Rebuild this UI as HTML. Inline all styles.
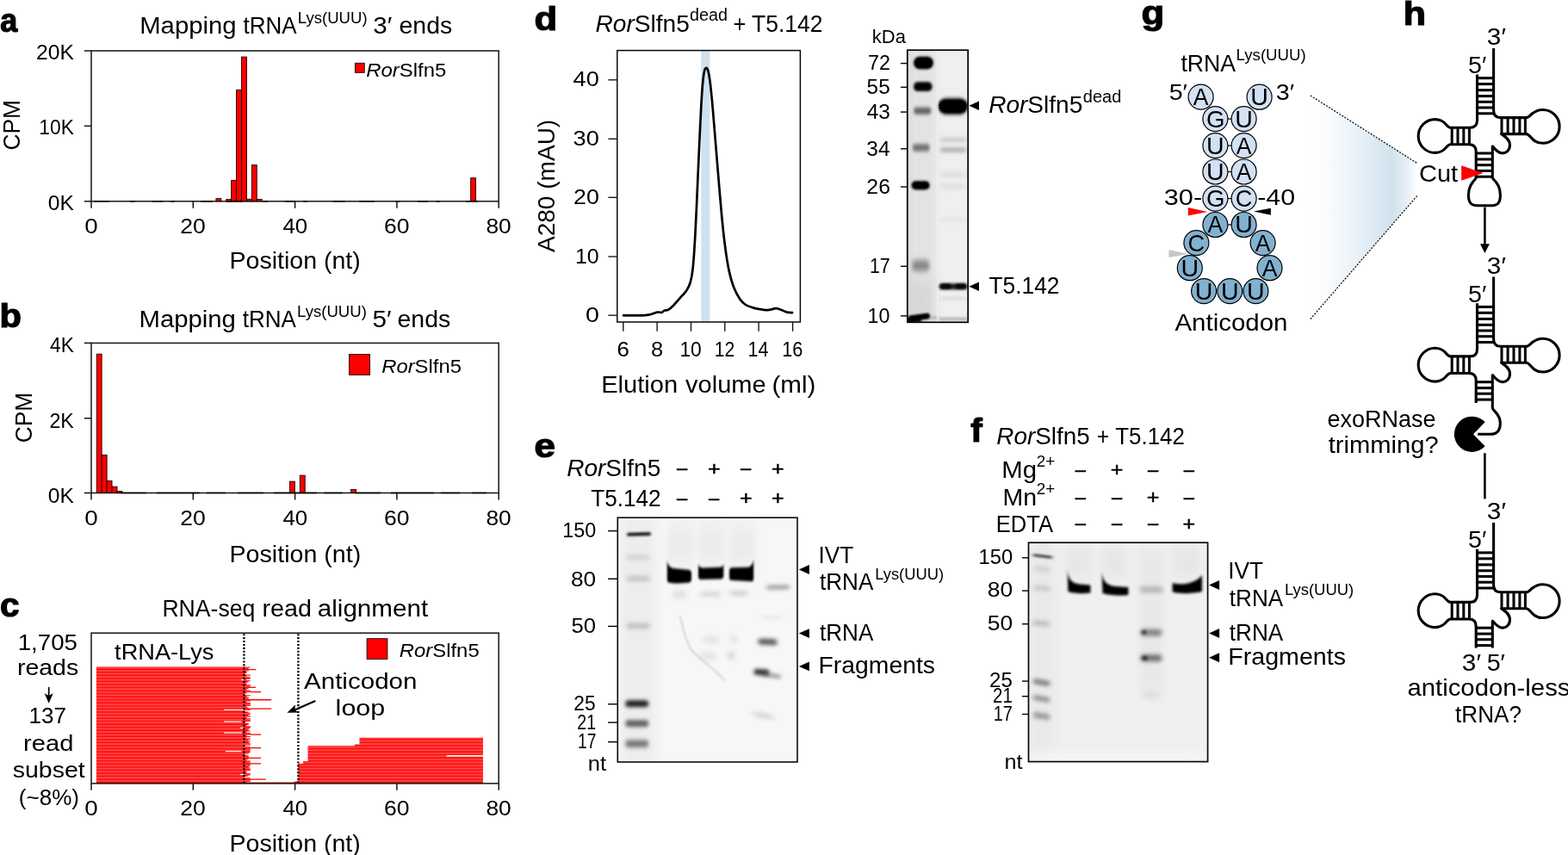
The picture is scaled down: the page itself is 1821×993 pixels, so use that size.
<!DOCTYPE html>
<html lang="en">
<head>
<meta charset="utf-8">
<title>Figure</title>
<style>
html,body{margin:0;padding:0;background:#fff;}
body{width:1821px;height:993px;overflow:hidden;}
svg{display:block;}
svg text{font-family:"Liberation Sans",Arial,Helvetica,sans-serif;white-space:pre;}
</style>
</head>
<body>
<svg width="1821" height="993" viewBox="0 0 1821 993">
<defs>
<pattern id="stripe" width="10" height="3.55" patternUnits="userSpaceOnUse" patternTransform="translate(0 774.4)"><rect width="10" height="2.25" y="0" fill="#fff" fill-opacity="0.27"/></pattern>
<clipPath id="clipc"><rect x="111.9" y="774.4" width="179" height="134.0"/><path d="M561 856.8 H417.5 V864.6 H411.8 V866.3 H357.6 V884 H352 V887 H346.4 V906.5 L340.5 908.6 H283 V909.9 H561 Z"/></clipPath>
<clipPath id="gclip1"><rect x="1053.8" y="58.2" width="70.4" height="316.1"/></clipPath>
<filter id="bl_4_6" x="-50%" y="-150%" width="200%" height="400%" color-interpolation-filters="sRGB"><feGaussianBlur stdDeviation="4 6"/></filter>
<filter id="bl_2_6" x="-50%" y="-150%" width="200%" height="400%" color-interpolation-filters="sRGB"><feGaussianBlur stdDeviation="2 6"/></filter>
<filter id="bl_5_10" x="-50%" y="-150%" width="200%" height="400%" color-interpolation-filters="sRGB"><feGaussianBlur stdDeviation="5 10"/></filter>
<filter id="bl_3_6" x="-50%" y="-150%" width="200%" height="400%" color-interpolation-filters="sRGB"><feGaussianBlur stdDeviation="3 6"/></filter>
<filter id="bl_1_4_1_7" x="-50%" y="-150%" width="200%" height="400%" color-interpolation-filters="sRGB"><feGaussianBlur stdDeviation="1.4 1.7"/></filter>
<filter id="bl_0_8_0_8" x="-50%" y="-150%" width="200%" height="400%" color-interpolation-filters="sRGB"><feGaussianBlur stdDeviation="0.8 0.8"/></filter>
<filter id="bl_1_5_1_8" x="-50%" y="-150%" width="200%" height="400%" color-interpolation-filters="sRGB"><feGaussianBlur stdDeviation="1.5 1.8"/></filter>
<filter id="bl_1_2_1_2" x="-50%" y="-150%" width="200%" height="400%" color-interpolation-filters="sRGB"><feGaussianBlur stdDeviation="1.2 1.2"/></filter>
<filter id="bl_1_7_2_0" x="-50%" y="-150%" width="200%" height="400%" color-interpolation-filters="sRGB"><feGaussianBlur stdDeviation="1.7 2.0"/></filter>
<filter id="bl_1_8_2_1" x="-50%" y="-150%" width="200%" height="400%" color-interpolation-filters="sRGB"><feGaussianBlur stdDeviation="1.8 2.1"/></filter>
<filter id="bl_1_4_1_6" x="-50%" y="-150%" width="200%" height="400%" color-interpolation-filters="sRGB"><feGaussianBlur stdDeviation="1.4 1.6"/></filter>
<filter id="bl_2_2_3_0" x="-50%" y="-150%" width="200%" height="400%" color-interpolation-filters="sRGB"><feGaussianBlur stdDeviation="2.2 3.0"/></filter>
<filter id="bl_1_3_1_2" x="-50%" y="-150%" width="200%" height="400%" color-interpolation-filters="sRGB"><feGaussianBlur stdDeviation="1.3 1.2"/></filter>
<filter id="bl_1_0_1_0" x="-50%" y="-150%" width="200%" height="400%" color-interpolation-filters="sRGB"><feGaussianBlur stdDeviation="1.0 1.0"/></filter>
<filter id="bl_1_6_2_2" x="-50%" y="-150%" width="200%" height="400%" color-interpolation-filters="sRGB"><feGaussianBlur stdDeviation="1.6 2.2"/></filter>
<filter id="bl_0_8_0_9" x="-50%" y="-150%" width="200%" height="400%" color-interpolation-filters="sRGB"><feGaussianBlur stdDeviation="0.8 0.9"/></filter>
<filter id="bl_2_0_2_0" x="-50%" y="-150%" width="200%" height="400%" color-interpolation-filters="sRGB"><feGaussianBlur stdDeviation="2.0 2.0"/></filter>
<filter id="bl_2_0_2_1" x="-50%" y="-150%" width="200%" height="400%" color-interpolation-filters="sRGB"><feGaussianBlur stdDeviation="2.0 2.1"/></filter>
<filter id="bl_2_5_2_5" x="-50%" y="-150%" width="200%" height="400%" color-interpolation-filters="sRGB"><feGaussianBlur stdDeviation="2.5 2.5"/></filter>
<filter id="bl_2_5_2_2" x="-50%" y="-150%" width="200%" height="400%" color-interpolation-filters="sRGB"><feGaussianBlur stdDeviation="2.5 2.2"/></filter>
<filter id="bl_1_7_1_7" x="-50%" y="-150%" width="200%" height="400%" color-interpolation-filters="sRGB"><feGaussianBlur stdDeviation="1.7 1.7"/></filter>
<filter id="bl_1_3_1_3" x="-50%" y="-150%" width="200%" height="400%" color-interpolation-filters="sRGB"><feGaussianBlur stdDeviation="1.3 1.3"/></filter>
<filter id="bl_2_1_6" x="-50%" y="-150%" width="200%" height="400%" color-interpolation-filters="sRGB"><feGaussianBlur stdDeviation="2 1.6"/></filter>
<filter id="bl_1_8_1_4" x="-50%" y="-150%" width="200%" height="400%" color-interpolation-filters="sRGB"><feGaussianBlur stdDeviation="1.8 1.4"/></filter>
<clipPath id="gclip2"><rect x="717.3" y="601.2" width="208.7" height="283.8"/></clipPath>
<filter id="bl_6_8" x="-50%" y="-150%" width="200%" height="400%" color-interpolation-filters="sRGB"><feGaussianBlur stdDeviation="6 8"/></filter>
<filter id="bl_5_8" x="-50%" y="-150%" width="200%" height="400%" color-interpolation-filters="sRGB"><feGaussianBlur stdDeviation="5 8"/></filter>
<filter id="bl_1_7_1_3" x="-50%" y="-150%" width="200%" height="400%" color-interpolation-filters="sRGB"><feGaussianBlur stdDeviation="1.7 1.3"/></filter>
<filter id="bl_2_8_2_6" x="-50%" y="-150%" width="200%" height="400%" color-interpolation-filters="sRGB"><feGaussianBlur stdDeviation="2.8 2.6"/></filter>
<filter id="bl_2_8_2_4" x="-50%" y="-150%" width="200%" height="400%" color-interpolation-filters="sRGB"><feGaussianBlur stdDeviation="2.8 2.4"/></filter>
<filter id="bl_2_3_2_3" x="-50%" y="-150%" width="200%" height="400%" color-interpolation-filters="sRGB"><feGaussianBlur stdDeviation="2.3 2.3"/></filter>
<filter id="bl_2_3_2_4" x="-50%" y="-150%" width="200%" height="400%" color-interpolation-filters="sRGB"><feGaussianBlur stdDeviation="2.3 2.4"/></filter>
<filter id="bl_1_3_1_4" x="-50%" y="-150%" width="200%" height="400%" color-interpolation-filters="sRGB"><feGaussianBlur stdDeviation="1.3 1.4"/></filter>
<filter id="bl_3_3" x="-50%" y="-150%" width="200%" height="400%" color-interpolation-filters="sRGB"><feGaussianBlur stdDeviation="3 3"/></filter>
<filter id="bl_3_2_5" x="-50%" y="-150%" width="200%" height="400%" color-interpolation-filters="sRGB"><feGaussianBlur stdDeviation="3 2.5"/></filter>
<filter id="bl_2_5_3" x="-50%" y="-150%" width="200%" height="400%" color-interpolation-filters="sRGB"><feGaussianBlur stdDeviation="2.5 3"/></filter>
<filter id="bl_2_4_2_0" x="-50%" y="-150%" width="200%" height="400%" color-interpolation-filters="sRGB"><feGaussianBlur stdDeviation="2.4 2.0"/></filter>
<filter id="bl_2_4_2_1" x="-50%" y="-150%" width="200%" height="400%" color-interpolation-filters="sRGB"><feGaussianBlur stdDeviation="2.4 2.1"/></filter>
<filter id="bl_2_2_2_0" x="-50%" y="-150%" width="200%" height="400%" color-interpolation-filters="sRGB"><feGaussianBlur stdDeviation="2.2 2.0"/></filter>
<filter id="bl_2_7_2_0" x="-50%" y="-150%" width="200%" height="400%" color-interpolation-filters="sRGB"><feGaussianBlur stdDeviation="2.7 2.0"/></filter>
<filter id="bl_3_5_2_8" x="-50%" y="-150%" width="200%" height="400%" color-interpolation-filters="sRGB"><feGaussianBlur stdDeviation="3.5 2.8"/></filter>
<filter id="bl_3_2" x="-50%" y="-150%" width="200%" height="400%" color-interpolation-filters="sRGB"><feGaussianBlur stdDeviation="3 2"/></filter>
<clipPath id="gclip3"><rect x="1194.5" y="630.2" width="208.1" height="254.4"/></clipPath>
<filter id="bl_8_5" x="-50%" y="-150%" width="200%" height="400%" color-interpolation-filters="sRGB"><feGaussianBlur stdDeviation="8 5"/></filter>
<filter id="bl_2_0_1_2" x="-50%" y="-150%" width="200%" height="400%" color-interpolation-filters="sRGB"><feGaussianBlur stdDeviation="2.0 1.2"/></filter>
<filter id="bl_2_8_2_5" x="-50%" y="-150%" width="200%" height="400%" color-interpolation-filters="sRGB"><feGaussianBlur stdDeviation="2.8 2.5"/></filter>
<filter id="bl_2_6_2_3" x="-50%" y="-150%" width="200%" height="400%" color-interpolation-filters="sRGB"><feGaussianBlur stdDeviation="2.6 2.3"/></filter>
<filter id="bl_2_6_2_4" x="-50%" y="-150%" width="200%" height="400%" color-interpolation-filters="sRGB"><feGaussianBlur stdDeviation="2.6 2.4"/></filter>
<filter id="bl_1_5_1_6" x="-50%" y="-150%" width="200%" height="400%" color-interpolation-filters="sRGB"><feGaussianBlur stdDeviation="1.5 1.6"/></filter>
<filter id="bl_1_5_1_5" x="-50%" y="-150%" width="200%" height="400%" color-interpolation-filters="sRGB"><feGaussianBlur stdDeviation="1.5 1.5"/></filter>
<filter id="bl_3_5_3_0" x="-50%" y="-150%" width="200%" height="400%" color-interpolation-filters="sRGB"><feGaussianBlur stdDeviation="3.5 3.0"/></filter>
<linearGradient id="wedge" x1="1522" y1="0" x2="1646" y2="0" gradientUnits="userSpaceOnUse"><stop offset="0" stop-color="#ffffff"/><stop offset="0.14" stop-color="#fafcfd"/><stop offset="0.45" stop-color="#e9f1f7"/><stop offset="0.76" stop-color="#d2e2ed"/><stop offset="0.9" stop-color="#e6eff5"/><stop offset="1" stop-color="#ffffff"/></linearGradient>
</defs>
<rect width="1821" height="993" fill="#fff"/>
<text x="0.22" y="37.2" font-size="38" textLength="20.01" lengthAdjust="spacingAndGlyphs" font-weight="bold" stroke="#000" stroke-width="1.2" stroke-linejoin="round">a</text>
<text x="162.18" y="39" font-size="27.7" textLength="112.46" lengthAdjust="spacingAndGlyphs">Mapping</text>
<text x="282.41" y="39" font-size="27.7" textLength="62.16" lengthAdjust="spacingAndGlyphs">tRNA</text>
<text x="345.78" y="27.1" font-size="18.2" textLength="80.81" lengthAdjust="spacingAndGlyphs">Lys(UUU)</text>
<text x="433.39" y="39" font-size="27.7" textLength="22" lengthAdjust="spacingAndGlyphs">3′</text>
<text x="463.49" y="39" font-size="27.7" textLength="61.71" lengthAdjust="spacingAndGlyphs">ends</text>
<rect x="250.92" y="230.6" width="5.92" height="3.2" fill="#ff0000" stroke="#1a0000" stroke-width="0.9" />
<rect x="262.75" y="231.6" width="5.92" height="2.2" fill="#ff0000" stroke="#1a0000" stroke-width="0.9" />
<rect x="268.66" y="209.4" width="5.92" height="24.4" fill="#ff0000" stroke="#1a0000" stroke-width="0.9" />
<rect x="274.58" y="104.4" width="5.92" height="129.4" fill="#ff0000" stroke="#1a0000" stroke-width="0.9" />
<rect x="280.49" y="66.1" width="5.92" height="167.7" fill="#ff0000" stroke="#1a0000" stroke-width="0.9" />
<rect x="286.41" y="231.3" width="5.92" height="2.5" fill="#ff0000" stroke="#1a0000" stroke-width="0.9" />
<rect x="292.32" y="191.6" width="5.92" height="42.2" fill="#ff0000" stroke="#1a0000" stroke-width="0.9" />
<rect x="298.24" y="231.5" width="5.92" height="2.3" fill="#ff0000" stroke="#1a0000" stroke-width="0.9" />
<rect x="546.67" y="206.7" width="5.92" height="27.1" fill="#ff0000" stroke="#1a0000" stroke-width="0.9" />
<rect x="106" y="59" width="473.2" height="174.8" fill="none" stroke="#141414" stroke-width="1.5" />
<line x1="97.8" y1="59" x2="106" y2="59" stroke="#141414" stroke-width="1.5" />
<line x1="97.8" y1="146.3" x2="106" y2="146.3" stroke="#141414" stroke-width="1.5" />
<line x1="97.8" y1="233.8" x2="106" y2="233.8" stroke="#141414" stroke-width="1.5" />
<line x1="106" y1="233.8" x2="106" y2="241.8" stroke="#141414" stroke-width="1.5" />
<line x1="224.3" y1="233.8" x2="224.3" y2="241.8" stroke="#141414" stroke-width="1.5" />
<line x1="342.6" y1="233.8" x2="342.6" y2="241.8" stroke="#141414" stroke-width="1.5" />
<line x1="460.9" y1="233.8" x2="460.9" y2="241.8" stroke="#141414" stroke-width="1.5" />
<line x1="579.2" y1="233.8" x2="579.2" y2="241.8" stroke="#141414" stroke-width="1.5" />
<line x1="109" y1="233.8" x2="560" y2="233.8" stroke="#000" stroke-width="1.5" stroke-dasharray="18 24 6 20 12 9 5 30 14 16"/>
<text x="41.96" y="68.6" font-size="23.1" textLength="43.95" lengthAdjust="spacingAndGlyphs">20K</text>
<text x="45.29" y="156.2" font-size="23.1" textLength="40.6" lengthAdjust="spacingAndGlyphs">10K</text>
<text x="55.82" y="243.9" font-size="23.1" textLength="30.09" lengthAdjust="spacingAndGlyphs">0K</text>
<g transform="rotate(-90 23.1 145.7)"><text x="-5.72" y="145.7" font-size="28" textLength="58.49" lengthAdjust="spacingAndGlyphs">CPM</text></g>
<text x="98.24" y="270.5" font-size="23.1" textLength="15.46" lengthAdjust="spacingAndGlyphs">0</text>
<text x="209.37" y="270.5" font-size="23.1" textLength="29.53" lengthAdjust="spacingAndGlyphs">20</text>
<text x="328.42" y="270.5" font-size="23.1" textLength="28.75" lengthAdjust="spacingAndGlyphs">40</text>
<text x="445.97" y="270.5" font-size="23.1" textLength="29.53" lengthAdjust="spacingAndGlyphs">60</text>
<text x="564.48" y="270.5" font-size="23.1" textLength="29.31" lengthAdjust="spacingAndGlyphs">80</text>
<text x="266.54" y="311.9" font-size="27.7" textLength="152.17" lengthAdjust="spacingAndGlyphs">Position (nt)</text>
<rect x="412.4" y="73.3" width="10.8" height="11" fill="#ff0000" stroke="#1a0000" stroke-width="0.9" />
<text x="425.28" y="88.9" font-size="22.8" textLength="38.55" lengthAdjust="spacingAndGlyphs" font-style="italic">Ror</text><text x="463.83" y="88.9" font-size="22.8" textLength="54.53" lengthAdjust="spacingAndGlyphs">Slfn5</text>
<text x="-0.42" y="380" font-size="38" textLength="25.49" lengthAdjust="spacingAndGlyphs" font-weight="bold" stroke="#000" stroke-width="1.2" stroke-linejoin="round">b</text>
<text x="161.48" y="379.6" font-size="27.7" textLength="112.46" lengthAdjust="spacingAndGlyphs">Mapping</text>
<text x="281.71" y="379.6" font-size="27.7" textLength="62.16" lengthAdjust="spacingAndGlyphs">tRNA</text>
<text x="345.08" y="367.7" font-size="18.2" textLength="80.81" lengthAdjust="spacingAndGlyphs">Lys(UUU)</text>
<text x="432.61" y="379.6" font-size="27.7" textLength="22.08" lengthAdjust="spacingAndGlyphs">5′</text>
<text x="461.49" y="379.6" font-size="27.7" textLength="61.71" lengthAdjust="spacingAndGlyphs">ends</text>
<rect x="112.2" y="411.2" width="5.92" height="161.3" fill="#ff0000" stroke="#1a0000" stroke-width="0.9" />
<rect x="118.2" y="528.4" width="5.92" height="44.1" fill="#ff0000" stroke="#1a0000" stroke-width="0.9" />
<rect x="124.1" y="558.5" width="5.92" height="14" fill="#ff0000" stroke="#1a0000" stroke-width="0.9" />
<rect x="130.1" y="565.2" width="5.92" height="7.3" fill="#ff0000" stroke="#1a0000" stroke-width="0.9" />
<rect x="136" y="570.6" width="5.92" height="1.9" fill="#ff0000" stroke="#1a0000" stroke-width="0.9" />
<rect x="336.4" y="559.1" width="5.92" height="13.4" fill="#ff0000" stroke="#1a0000" stroke-width="0.9" />
<rect x="348.3" y="552.1" width="5.92" height="20.4" fill="#ff0000" stroke="#1a0000" stroke-width="0.9" />
<rect x="407.6" y="568.5" width="5.92" height="4" fill="#ff0000" stroke="#1a0000" stroke-width="0.9" />
<rect x="106" y="398.4" width="473.2" height="174.1" fill="none" stroke="#141414" stroke-width="1.5" />
<line x1="97.8" y1="398.4" x2="106" y2="398.4" stroke="#141414" stroke-width="1.5" />
<line x1="97.8" y1="485.8" x2="106" y2="485.8" stroke="#141414" stroke-width="1.5" />
<line x1="97.8" y1="572.5" x2="106" y2="572.5" stroke="#141414" stroke-width="1.5" />
<line x1="106" y1="572.5" x2="106" y2="580.5" stroke="#141414" stroke-width="1.5" />
<line x1="224.3" y1="572.5" x2="224.3" y2="580.5" stroke="#141414" stroke-width="1.5" />
<line x1="342.6" y1="572.5" x2="342.6" y2="580.5" stroke="#141414" stroke-width="1.5" />
<line x1="460.9" y1="572.5" x2="460.9" y2="580.5" stroke="#141414" stroke-width="1.5" />
<line x1="579.2" y1="572.5" x2="579.2" y2="580.5" stroke="#141414" stroke-width="1.5" />
<line x1="140" y1="572.5" x2="565" y2="572.5" stroke="#000" stroke-width="1.5" stroke-dasharray="30 12 50 8 22 14"/>
<text x="58.09" y="409.4" font-size="23.1" textLength="27.8" lengthAdjust="spacingAndGlyphs">4K</text>
<text x="57.44" y="496.5" font-size="23.1" textLength="28.45" lengthAdjust="spacingAndGlyphs">2K</text>
<text x="55.82" y="584" font-size="23.1" textLength="30.09" lengthAdjust="spacingAndGlyphs">0K</text>
<g transform="rotate(-90 36.9 485.4)"><text x="7.98" y="485.4" font-size="28.2" textLength="58.7" lengthAdjust="spacingAndGlyphs">CPM</text></g>
<text x="98.24" y="609.7" font-size="23.1" textLength="15.46" lengthAdjust="spacingAndGlyphs">0</text>
<text x="209.37" y="609.7" font-size="23.1" textLength="29.53" lengthAdjust="spacingAndGlyphs">20</text>
<text x="328.42" y="609.7" font-size="23.1" textLength="28.75" lengthAdjust="spacingAndGlyphs">40</text>
<text x="445.97" y="609.7" font-size="23.1" textLength="29.53" lengthAdjust="spacingAndGlyphs">60</text>
<text x="564.48" y="609.7" font-size="23.1" textLength="29.31" lengthAdjust="spacingAndGlyphs">80</text>
<text x="266.54" y="652.7" font-size="27.7" textLength="152.68" lengthAdjust="spacingAndGlyphs">Position (nt)</text>
<rect x="405.6" y="411.6" width="24" height="23.8" fill="#ff0000" stroke="#1a0000" stroke-width="0.9" />
<text x="443.18" y="432.8" font-size="22.8" textLength="38.42" lengthAdjust="spacingAndGlyphs" font-style="italic">Ror</text><text x="481.6" y="432.8" font-size="22.8" textLength="54.35" lengthAdjust="spacingAndGlyphs">Slfn5</text>
<text x="-0.02" y="715.7" font-size="38" textLength="22.54" lengthAdjust="spacingAndGlyphs" font-weight="bold" stroke="#000" stroke-width="1.2" stroke-linejoin="round">c</text>
<text x="188.4" y="716" font-size="27.7" textLength="107.96" lengthAdjust="spacingAndGlyphs">RNA-seq</text>
<text x="304.53" y="716" font-size="27.7" textLength="57.47" lengthAdjust="spacingAndGlyphs">read</text>
<text x="368.74" y="716" font-size="27.7" textLength="128.48" lengthAdjust="spacingAndGlyphs">alignment</text>
<path d="M111.9 774.4 H283.4 V774.4 H290.5 V775.7 H283.4 V775.7 H288.5 V777.0 H283.4 V777.0 H297.4 V778.3 H283.4 V778.3 H289.0 V779.6 H283.4 V779.6 H286.5 V780.9 H283.4 V780.9 H286.5 V782.2 H283.4 V782.2 H284.5 V783.5 H283.4 V783.5 H290.8 V784.8 H283.4 V784.8 H286.5 V786.1 H283.4 V786.1 H290.5 V787.4 H283.4 V787.4 H290.8 V788.7 H283.4 V788.7 H286.5 V790.0 H283.4 V790.0 H290.8 V791.3 H283.4 V791.3 H288.5 V792.6 H283.4 V792.6 H286.5 V793.9 H283.4 V793.9 H286.5 V795.2 H283.4 V795.2 H290.8 V796.5 H283.4 V796.5 H290.8 V797.8 H283.4 V797.8 H297.0 V799.1 H283.4 V799.1 H288.5 V800.4 H283.4 V800.4 H286.5 V801.7 H283.4 V801.7 H290.8 V803.0 H283.4 V803.0 H303.2 V804.3 H283.4 V804.3 H286.5 V805.6 H283.4 V805.6 H284.5 V806.9 H283.4 V806.9 H290.8 V808.2 H283.4 V808.2 H286.5 V809.5 H283.4 V809.5 H288.5 V810.8 H283.4 V810.8 H289.0 V812.1 H283.4 V812.1 H315.2 V813.4 H283.4 V813.4 H290.8 V814.7 H283.4 V814.7 H286.5 V816.0 H283.4 V816.0 H290.8 V817.3 H283.4 V817.3 H290.8 V818.6 H283.4 V818.6 H290.8 V819.9 H283.4 V819.9 H286.5 V821.2 H283.4 V821.2 H288.5 V822.5 H283.4 V822.5 H315.2 V823.8 H283.4 V823.8 H290.8 V825.1 H283.4 V825.1 H284.5 V826.4 H283.4 V826.4 H288.5 V827.7 H283.4 V827.7 H290.5 V829.0 H283.4 V829.0 H290.8 V830.3 H283.4 V830.3 H288.5 V831.6 H283.4 V831.6 H290.8 V832.9 H283.4 V832.9 H286.5 V834.2 H283.4 V834.2 H290.8 V835.5 H283.4 V835.5 H290.5 V836.8 H283.4 V836.8 H290.8 V838.1 H283.4 V838.1 H284.5 V839.4 H283.4 V839.4 H289.0 V840.7 H283.4 V840.7 H288.5 V842.0 H283.4 V842.0 H286.5 V843.3 H283.4 V843.3 H290.8 V844.6 H283.4 V844.6 H290.8 V845.9 H283.4 V845.9 H289.0 V847.2 H283.4 V847.2 H288.5 V848.5 H283.4 V848.5 H290.5 V849.8 H283.4 V849.8 H286.5 V851.1 H283.4 V851.1 H290.8 V852.4 H283.4 V852.4 H303.2 V853.7 H283.4 V853.7 H286.5 V855.0 H283.4 V855.0 H290.8 V856.3 H283.4 V856.3 H286.5 V857.6 H283.4 V857.6 H290.8 V858.9 H283.4 V858.9 H288.5 V860.2 H283.4 V860.2 H290.8 V861.5 H283.4 V861.5 H289.0 V862.8 H283.4 V862.8 H290.8 V864.1 H283.4 V864.1 H290.8 V865.4 H283.4 V865.4 H284.5 V866.7 H283.4 V866.7 H290.5 V868.0 H283.4 V868.0 H303.2 V869.3 H283.4 V869.3 H290.8 V870.6 H283.4 V870.6 H290.8 V871.9 H283.4 V871.9 H290.5 V873.2 H283.4 V873.2 H290.5 V874.5 H283.4 V874.5 H288.5 V875.8 H283.4 V875.8 H284.5 V877.1 H283.4 V877.1 H288.5 V878.4 H283.4 V878.4 H289.0 V879.7 H283.4 V879.7 H303.0 V881.0 H283.4 V881.0 H288.5 V882.3 H283.4 V882.3 H286.5 V883.6 H283.4 V883.6 H290.8 V884.9 H283.4 V884.9 H290.5 V886.2 H283.4 V886.2 H303.0 V887.5 H283.4 V887.5 H290.8 V888.8 H283.4 V888.8 H290.5 V890.1 H283.4 V890.1 H289.0 V891.4 H283.4 V891.4 H290.8 V892.7 H283.4 V892.7 H290.5 V894.0 H283.4 V894.0 H290.8 V895.3 H283.4 V895.3 H286.5 V896.6 H283.4 V896.6 H286.5 V897.9 H283.4 V897.9 H290.8 V899.2 H283.4 V899.2 H290.8 V900.5 H283.4 V900.5 H288.5 V901.8 H283.4 V901.8 H284.5 V903.1 H283.4 V903.1 H290.5 V904.4 H283.4 V904.4 H308.9 V905.7 H283.4 V905.7 H290.8 V907.0 H283.4 V907.0 H290.8 V908.3 H283.4 V908.3 H286.5 V909.6 H283.4 V909.9 H111.9 Z" fill="#ff0000" stroke="none" stroke-width="1" />
<path d="M561 856.8 H417.5 V864.6 H411.8 V866.3 H357.6 V884 H352 V887 H346.4 V906.5 L340.5 908.6 H283 V909.9 H561 Z" fill="#ff0000" stroke="none" stroke-width="1" />
<rect x="111.9" y="774.4" width="450" height="134.3" fill="url(#stripe)" stroke="none" stroke-width="1" clip-path="url(#clipc)"/>
<rect x="260" y="823.8" width="23" height="1.2" fill="#fff" stroke="none" stroke-width="1" fill-opacity="0.95"/>
<rect x="260" y="837.5" width="20.5" height="1.2" fill="#fff" stroke="none" stroke-width="1" fill-opacity="0.95"/>
<rect x="260" y="850.4" width="21" height="1.2" fill="#fff" stroke="none" stroke-width="1" fill-opacity="0.95"/>
<rect x="262" y="872" width="18.5" height="1.2" fill="#fff" stroke="none" stroke-width="1" fill-opacity="0.95"/>
<rect x="280" y="788.9" width="3" height="1.2" fill="#fff" stroke="none" stroke-width="1" fill-opacity="0.95"/>
<rect x="279" y="844.9" width="4" height="1.2" fill="#fff" stroke="none" stroke-width="1" fill-opacity="0.95"/>
<rect x="279" y="898.9" width="4" height="1.2" fill="#fff" stroke="none" stroke-width="1" fill-opacity="0.95"/>
<rect x="518.5" y="877" width="42.5" height="1.7" fill="#fff" stroke="none" stroke-width="1" fill-opacity="0.92"/>
<line x1="283.4" y1="736.2" x2="283.4" y2="909.9" stroke="#000" stroke-width="2.3" stroke-dasharray="2.1 1.8"/>
<line x1="346.4" y1="736.2" x2="346.4" y2="909.9" stroke="#000" stroke-width="2.3" stroke-dasharray="2.1 1.8"/>
<rect x="106" y="735.2" width="473.2" height="174.7" fill="none" stroke="#141414" stroke-width="1.5" />
<line x1="106" y1="909.9" x2="106" y2="917.7" stroke="#141414" stroke-width="1.5" />
<line x1="224.3" y1="909.9" x2="224.3" y2="917.7" stroke="#141414" stroke-width="1.5" />
<line x1="342.6" y1="909.9" x2="342.6" y2="917.7" stroke="#141414" stroke-width="1.5" />
<line x1="460.9" y1="909.9" x2="460.9" y2="917.7" stroke="#141414" stroke-width="1.5" />
<line x1="579.2" y1="909.9" x2="579.2" y2="917.7" stroke="#141414" stroke-width="1.5" />
<text x="98.24" y="946.7" font-size="23.1" textLength="15.46" lengthAdjust="spacingAndGlyphs">0</text>
<text x="209.37" y="946.7" font-size="23.1" textLength="29.53" lengthAdjust="spacingAndGlyphs">20</text>
<text x="328.42" y="946.7" font-size="23.1" textLength="28.75" lengthAdjust="spacingAndGlyphs">40</text>
<text x="445.97" y="946.7" font-size="23.1" textLength="29.53" lengthAdjust="spacingAndGlyphs">60</text>
<text x="564.48" y="946.7" font-size="23.1" textLength="29.31" lengthAdjust="spacingAndGlyphs">80</text>
<text x="266.54" y="988.9" font-size="27.7" textLength="152.17" lengthAdjust="spacingAndGlyphs">Position (nt)</text>
<text x="20.72" y="754.9" font-size="26.6" textLength="69.29" lengthAdjust="spacingAndGlyphs">1,705</text>
<text x="19.95" y="784" font-size="26.6" textLength="71.25" lengthAdjust="spacingAndGlyphs">reads</text>
<text x="33.54" y="840.2" font-size="26.6" textLength="43.46" lengthAdjust="spacingAndGlyphs">137</text>
<text x="27.11" y="872" font-size="26.6" textLength="58.22" lengthAdjust="spacingAndGlyphs">read</text>
<text x="14.71" y="902.8" font-size="26.6" textLength="84" lengthAdjust="spacingAndGlyphs">subset</text>
<text x="21.87" y="934.5" font-size="26.6" textLength="70.19" lengthAdjust="spacingAndGlyphs">(~8%)</text>
<line x1="56.7" y1="798" x2="56.7" y2="809" stroke="#000" stroke-width="1.7" />
<polygon points="56.7,816.8 51.6,805.2 56.7,808 61.8,805.2" fill="#000" />
<text x="133.1" y="765.6" font-size="26.6" textLength="115.33" lengthAdjust="spacingAndGlyphs">tRNA-Lys</text>
<text x="353.03" y="799.8" font-size="26.6" textLength="131.42" lengthAdjust="spacingAndGlyphs">Anticodon</text>
<text x="389.64" y="830.9" font-size="26.6" textLength="57.58" lengthAdjust="spacingAndGlyphs">loop</text>
<line x1="366.3" y1="814" x2="340" y2="825.6" stroke="#000" stroke-width="2.2" />
<polygon points="333.3,827.8 343,818.6 342.4,824.6 346.6,827.6" fill="#000" />
<rect x="426.1" y="741.7" width="23.8" height="23.8" fill="#ff0000" stroke="#1a0000" stroke-width="0.9" />
<text x="463.78" y="763" font-size="22.8" textLength="38.46" lengthAdjust="spacingAndGlyphs" font-style="italic">Ror</text><text x="502.25" y="763" font-size="22.8" textLength="54.41" lengthAdjust="spacingAndGlyphs">Slfn5</text>
<text x="620.45" y="35.4" font-size="38" textLength="26.7" lengthAdjust="spacingAndGlyphs" font-weight="bold" stroke="#000" stroke-width="1.2" stroke-linejoin="round">d</text>
<text x="691.46" y="36.9" font-size="27.2" textLength="45.3" lengthAdjust="spacingAndGlyphs" font-style="italic">Ror</text><text x="736.75" y="36.9" font-size="27.2" textLength="64.07" lengthAdjust="spacingAndGlyphs">Slfn5</text>
<text x="800.96" y="24.1" font-size="19.3" textLength="44.09" lengthAdjust="spacingAndGlyphs">dead</text>
<text x="851.59" y="36.9" font-size="27.2" textLength="14.88" lengthAdjust="spacingAndGlyphs">+</text>
<text x="873" y="36.9" font-size="27.2" textLength="82.42" lengthAdjust="spacingAndGlyphs">T5.142</text>
<rect x="814.3" y="58.6" width="10" height="315.4" fill="#cfe1ee" stroke="none" stroke-width="1" />
<path d="M724.0 366.3 C727.4 366.3 739.4 366.5 744.5 366.3 C749.6 366.2 751.6 365.9 754.8 365.3 C757.9 364.7 761.1 363.0 763.3 362.6 C765.6 362.2 767.0 363.2 768.5 362.9 C769.9 362.6 770.6 361.0 771.9 360.5 C773.1 360.0 774.3 360.8 776.0 359.8 C777.7 358.9 779.9 357.0 782.2 354.7 C784.4 352.4 787.1 349.1 789.7 346.1 C792.3 343.2 795.6 339.9 797.6 336.9 C799.6 333.9 800.5 331.9 801.7 328.0 C802.8 324.1 803.6 321.1 804.4 313.6 C805.3 306.1 806.1 294.8 806.8 282.8 C807.6 270.8 808.1 257.7 808.9 241.7 C809.6 225.7 810.5 204.6 811.3 186.9 C812.1 169.3 812.9 149.9 813.7 135.6 C814.4 121.3 815.0 110.0 815.7 101.4 C816.4 92.7 817.0 87.3 817.8 83.6 C818.5 79.8 819.4 78.8 820.2 78.8 C821.0 78.7 821.8 80.0 822.6 83.2 C823.4 86.4 824.1 90.9 825.0 97.9 C825.8 104.9 826.7 114.5 827.7 125.3 C828.7 136.2 829.7 149.9 830.8 163.0 C831.9 176.1 833.0 189.8 834.2 204.1 C835.4 218.3 836.7 234.9 838.0 248.6 C839.3 262.3 840.6 275.4 842.1 286.2 C843.5 297.1 844.8 305.6 846.5 313.6 C848.2 321.6 850.2 328.6 852.3 334.1 C854.5 339.7 856.9 343.8 859.2 347.2 C861.5 350.5 863.5 352.3 866.0 354.0 C868.6 355.7 871.5 356.5 874.6 357.4 C877.7 358.3 882.0 359.0 884.9 359.5 C887.7 359.9 889.7 360.2 891.7 360.2 C893.7 360.1 895.3 359.5 896.9 359.1 C898.4 358.8 899.6 358.0 901.3 358.1 C903.0 358.2 905.0 359.1 907.1 359.8 C909.2 360.6 911.8 362.0 914.0 362.6 C916.1 363.1 919.1 363.1 920.1 363.2" fill="none" stroke="#000" stroke-width="2.7" stroke-linecap="round" stroke-linejoin="round"/>
<rect x="716.8" y="58.6" width="212.6" height="315.4" fill="none" stroke="#000" stroke-width="1.45" />
<line x1="706.4" y1="92.8" x2="716.8" y2="92.8" stroke="#111" stroke-width="1.35" />
<text x="665.59" y="100.4" font-size="23.1" textLength="30.23" lengthAdjust="spacingAndGlyphs">40</text>
<line x1="706.4" y1="161.3" x2="716.8" y2="161.3" stroke="#111" stroke-width="1.35" />
<text x="665.58" y="168.9" font-size="23.1" textLength="30.24" lengthAdjust="spacingAndGlyphs">30</text>
<line x1="706.4" y1="229.3" x2="716.8" y2="229.3" stroke="#111" stroke-width="1.35" />
<text x="665.96" y="236.9" font-size="23.1" textLength="29.85" lengthAdjust="spacingAndGlyphs">20</text>
<line x1="706.4" y1="298" x2="716.8" y2="298" stroke="#111" stroke-width="1.35" />
<text x="667.92" y="305.6" font-size="23.1" textLength="27.82" lengthAdjust="spacingAndGlyphs">10</text>
<line x1="706.4" y1="366.2" x2="716.8" y2="366.2" stroke="#111" stroke-width="1.35" />
<text x="679.95" y="373.8" font-size="23.1" textLength="15.92" lengthAdjust="spacingAndGlyphs">0</text>
<line x1="723.8" y1="374" x2="723.8" y2="384.8" stroke="#111" stroke-width="1.35" />
<text x="716.5" y="413.9" font-size="23.1" textLength="14.4" lengthAdjust="spacingAndGlyphs">6</text>
<line x1="763.1" y1="374" x2="763.1" y2="384.8" stroke="#111" stroke-width="1.35" />
<text x="756.01" y="413.9" font-size="23.1" textLength="14.17" lengthAdjust="spacingAndGlyphs">8</text>
<line x1="802.5" y1="374" x2="802.5" y2="384.8" stroke="#111" stroke-width="1.35" />
<text x="789.39" y="413.9" font-size="23.1" textLength="25.37" lengthAdjust="spacingAndGlyphs">10</text>
<line x1="841.8" y1="374" x2="841.8" y2="384.8" stroke="#111" stroke-width="1.35" />
<text x="829.82" y="413.9" font-size="23.1" textLength="23.44" lengthAdjust="spacingAndGlyphs">12</text>
<line x1="881.1" y1="374" x2="881.1" y2="384.8" stroke="#111" stroke-width="1.35" />
<text x="868.58" y="413.9" font-size="23.1" textLength="24.02" lengthAdjust="spacingAndGlyphs">14</text>
<line x1="920.6" y1="374" x2="920.6" y2="384.8" stroke="#111" stroke-width="1.35" />
<text x="908.17" y="413.9" font-size="23.1" textLength="24.16" lengthAdjust="spacingAndGlyphs">16</text>
<text x="698.2" y="456.3" font-size="27.8" textLength="88.92" lengthAdjust="spacingAndGlyphs">Elution</text>
<text x="796.03" y="456.3" font-size="27.8" textLength="93.61" lengthAdjust="spacingAndGlyphs">volume</text>
<text x="896.45" y="456.3" font-size="27.8" textLength="50.93" lengthAdjust="spacingAndGlyphs">(ml)</text>
<g transform="rotate(-90 644.1 216.7)"><text x="567.78" y="216.7" font-size="27.7" textLength="154.25" lengthAdjust="spacingAndGlyphs">A280 (mAU)</text></g>
<g clip-path="url(#gclip1)">
<rect x="1053.8" y="58.2" width="70.4" height="316.1" fill="#ebebeb"/>
<rect x="1055.5" y="51" width="30" height="330" rx="2" fill="#d8d8d8" fill-opacity="0.4" filter="url(#bl_4_6)"/>
<rect x="1054.5" y="51" width="4" height="330" rx="2" fill="#cfcfcf" fill-opacity="0.5" filter="url(#bl_2_6)"/>
<rect x="1054" y="325" width="28" height="50" rx="2" fill="#c8c8c8" fill-opacity="0.45" filter="url(#bl_5_10)"/>
<rect x="1091.5" y="51" width="30" height="330" rx="2" fill="#f2f2f2" fill-opacity="0.6" filter="url(#bl_3_6)"/>
<rect x="1061.25" y="65.75" width="22.5" height="14.5" rx="7" fill="#000" fill-opacity="1" filter="url(#bl_1_4_1_7)"/>
<rect x="1062.5" y="67.5" width="20" height="11" rx="5" fill="#000" fill-opacity="1" filter="url(#bl_0_8_0_8)"/>
<rect x="1061.05" y="95.1" width="21.5" height="11" rx="5" fill="#000" fill-opacity="0.95" filter="url(#bl_1_5_1_8)"/>
<rect x="1063.05" y="98.05" width="17.5" height="5.5" rx="2.5" fill="#000" fill-opacity="0.8" filter="url(#bl_1_2_1_2)"/>
<rect x="1061.05" y="124.8" width="20.5" height="8" rx="4" fill="#4a4a4a" fill-opacity="0.85" filter="url(#bl_1_7_2_0)"/>
<rect x="1059.8" y="167.35" width="20" height="8.5" rx="4" fill="#555" fill-opacity="0.8" filter="url(#bl_1_8_2_1)"/>
<rect x="1058.6" y="210.2" width="21" height="10" rx="5" fill="#000" fill-opacity="1" filter="url(#bl_1_4_1_6)"/>
<rect x="1060.1" y="211.95" width="18" height="6.5" rx="3" fill="#000" fill-opacity="1" filter="url(#bl_0_8_0_8)"/>
<rect x="1059.05" y="302" width="20.5" height="13" rx="5" fill="#6a6a6a" fill-opacity="0.75" filter="url(#bl_2_2_3_0)"/>
<rect x="1054.2" y="365.1" width="26" height="7" rx="3.5" fill="#000" fill-opacity="1" filter="url(#bl_1_3_1_2)" transform="rotate(-8 1067.2 368.6)"/>
<rect x="1052" y="369.55" width="18" height="4.5" rx="2" fill="#000" fill-opacity="1" filter="url(#bl_1_0_1_0)"/>
<rect x="1089.7" y="114.15" width="34" height="18.5" rx="9" fill="#000" fill-opacity="1" filter="url(#bl_1_6_2_2)"/>
<rect x="1090.7" y="116.15" width="32" height="14.5" rx="7" fill="#000" fill-opacity="1" filter="url(#bl_0_8_0_9)"/>
<rect x="1092" y="159.95" width="30" height="4.5" rx="2" fill="#999" fill-opacity="0.5" filter="url(#bl_2_0_2_0)"/>
<rect x="1092" y="171.25" width="30" height="5.5" rx="2" fill="#888" fill-opacity="0.6" filter="url(#bl_2_0_2_1)"/>
<rect x="1093" y="200.5" width="28" height="5" rx="2" fill="#aaa" fill-opacity="0.3" filter="url(#bl_2_5_2_5)"/>
<rect x="1093" y="214" width="28" height="5" rx="2" fill="#aaa" fill-opacity="0.3" filter="url(#bl_2_5_2_5)"/>
<rect x="1093" y="252.7" width="28" height="4" rx="2" fill="#bbb" fill-opacity="0.25" filter="url(#bl_2_5_2_2)"/>
<rect x="1090.5" y="329.3" width="33" height="7" rx="3" fill="#111" fill-opacity="0.95" filter="url(#bl_1_7_1_7)"/>
<rect x="1092.5" y="329.6" width="12" height="6" rx="3" fill="#000" fill-opacity="0.8" filter="url(#bl_1_3_1_3)"/>
<rect x="1109.5" y="329.6" width="12" height="6" rx="3" fill="#000" fill-opacity="0.8" filter="url(#bl_1_3_1_3)"/>
<rect x="1092.5" y="345" width="29" height="3" rx="1.5" fill="#aaa" fill-opacity="0.3" filter="url(#bl_2_1_6)"/>
<rect x="1090.5" y="368.65" width="33" height="3.5" rx="1.5" fill="#888" fill-opacity="0.6" filter="url(#bl_1_8_1_4)"/>
<rect x="1080.5" y="367.25" width="8" height="3.5" rx="1.5" fill="#888" fill-opacity="0.5" filter="url(#bl_1_8_1_4)"/>
</g>
<rect x="1053.8" y="58.2" width="70.4" height="316.1" fill="none" stroke="#000" stroke-width="1.7"/>
<line x1="1088.9" y1="59.2" x2="1088.9" y2="373.3" stroke="#fff" stroke-width="1.2" stroke-dasharray="1.4 1.5" stroke-opacity="0.95"/>
<text x="1012.81" y="50.3" font-size="22.4" textLength="39.13" lengthAdjust="spacingAndGlyphs">kDa</text>
<line x1="1046" y1="73.6" x2="1053.8" y2="73.6" stroke="#000" stroke-width="1.4" />
<text x="1008.13" y="81.4" font-size="23.1" textLength="25.94" lengthAdjust="spacingAndGlyphs">72</text>
<line x1="1046" y1="101.3" x2="1053.8" y2="101.3" stroke="#000" stroke-width="1.4" />
<text x="1006.63" y="109.1" font-size="23.1" textLength="27.05" lengthAdjust="spacingAndGlyphs">55</text>
<line x1="1046" y1="130.1" x2="1053.8" y2="130.1" stroke="#000" stroke-width="1.4" />
<text x="1006.75" y="137.9" font-size="23.1" textLength="27.19" lengthAdjust="spacingAndGlyphs">43</text>
<line x1="1046" y1="172.8" x2="1053.8" y2="172.8" stroke="#000" stroke-width="1.4" />
<text x="1006.38" y="180.6" font-size="23.1" textLength="27.19" lengthAdjust="spacingAndGlyphs">34</text>
<line x1="1046" y1="217" x2="1053.8" y2="217" stroke="#000" stroke-width="1.4" />
<text x="1006.36" y="224.8" font-size="23.1" textLength="27.6" lengthAdjust="spacingAndGlyphs">26</text>
<line x1="1046" y1="309.3" x2="1053.8" y2="309.3" stroke="#000" stroke-width="1.4" />
<text x="1009.89" y="317.1" font-size="23.1" textLength="23.89" lengthAdjust="spacingAndGlyphs">17</text>
<line x1="1046" y1="366.9" x2="1053.8" y2="366.9" stroke="#000" stroke-width="1.4" />
<text x="1007.45" y="374.7" font-size="23.1" textLength="25.93" lengthAdjust="spacingAndGlyphs">10</text>
<polygon points="1125.3,122.7 1137,117.5 1137,127.9" fill="#000" />
<polygon points="1125.3,332.8 1137,327.6 1137,338" fill="#000" />
<text x="1148.16" y="131" font-size="27.5" textLength="45.21" lengthAdjust="spacingAndGlyphs" font-style="italic">Ror</text><text x="1193.37" y="131" font-size="27.5" textLength="63.95" lengthAdjust="spacingAndGlyphs">Slfn5</text>
<text x="1257.85" y="118.5" font-size="19.3" textLength="44.5" lengthAdjust="spacingAndGlyphs">dead</text>
<text x="1148.41" y="340.8" font-size="27.5" textLength="82.12" lengthAdjust="spacingAndGlyphs">T5.142</text>
<text x="620.43" y="531.1" font-size="38" textLength="24.5" lengthAdjust="spacingAndGlyphs" font-weight="bold" stroke="#000" stroke-width="1.2" stroke-linejoin="round">e</text>
<text x="658.16" y="552.8" font-size="27.3" textLength="45.21" lengthAdjust="spacingAndGlyphs" font-style="italic">Ror</text><text x="703.37" y="552.8" font-size="27.3" textLength="63.95" lengthAdjust="spacingAndGlyphs">Slfn5</text>
<text x="686.21" y="588.1" font-size="27.3" textLength="81.3" lengthAdjust="spacingAndGlyphs">T5.142</text>
<text x="786" y="551" font-size="21.5" textLength="12.2" lengthAdjust="spacingAndGlyphs" stroke="#000" stroke-width="0.45">–</text>
<text x="821.91" y="551.7" font-size="21.5" textLength="14.64" lengthAdjust="spacingAndGlyphs" stroke="#000" stroke-width="0.45">+</text>
<text x="860.1" y="551" font-size="21.5" textLength="12.2" lengthAdjust="spacingAndGlyphs" stroke="#000" stroke-width="0.45">–</text>
<text x="895.91" y="551.7" font-size="21.5" textLength="14.64" lengthAdjust="spacingAndGlyphs" stroke="#000" stroke-width="0.45">+</text>
<text x="786" y="585.5" font-size="21.5" textLength="12.2" lengthAdjust="spacingAndGlyphs" stroke="#000" stroke-width="0.45">–</text>
<text x="823.1" y="585.5" font-size="21.5" textLength="12.2" lengthAdjust="spacingAndGlyphs" stroke="#000" stroke-width="0.45">–</text>
<text x="858.91" y="586.2" font-size="21.5" textLength="14.64" lengthAdjust="spacingAndGlyphs" stroke="#000" stroke-width="0.45">+</text>
<text x="895.91" y="586.2" font-size="21.5" textLength="14.64" lengthAdjust="spacingAndGlyphs" stroke="#000" stroke-width="0.45">+</text>
<g clip-path="url(#gclip2)">
<rect x="717.3" y="601.2" width="208.7" height="283.8" fill="#f7f7f7"/>
<rect x="721" y="600" width="40" height="290" rx="3" fill="#e6e6e6" fill-opacity="0.6" filter="url(#bl_6_8)"/>
<rect x="775" y="609" width="30" height="46" rx="3" fill="#dedede" fill-opacity="0.45" filter="url(#bl_5_8)"/>
<rect x="811" y="609" width="30" height="46" rx="3" fill="#dedede" fill-opacity="0.45" filter="url(#bl_5_8)"/>
<rect x="847" y="609" width="30" height="46" rx="3" fill="#dedede" fill-opacity="0.45" filter="url(#bl_5_8)"/>
<rect x="728" y="618.3" width="28" height="4.2" rx="2" fill="#111" fill-opacity="0.9" filter="url(#bl_1_7_1_3)" transform="rotate(-1.5 742 620.4)"/>
<rect x="727.5" y="644.3" width="27" height="6" rx="3" fill="#999" fill-opacity="0.3" filter="url(#bl_2_8_2_6)"/>
<rect x="727.5" y="668.9" width="27" height="6" rx="3" fill="#777" fill-opacity="0.36" filter="url(#bl_2_8_2_4)"/>
<rect x="727.5" y="723.85" width="27" height="6.5" rx="3" fill="#777" fill-opacity="0.38" filter="url(#bl_2_8_2_6)"/>
<rect x="726.2" y="813.3" width="27" height="8" rx="4" fill="#111" fill-opacity="0.92" filter="url(#bl_2_0_2_0)"/>
<rect x="726.2" y="836.2" width="27" height="8" rx="4" fill="#333" fill-opacity="0.75" filter="url(#bl_2_3_2_3)"/>
<rect x="726.2" y="859.55" width="27" height="8.5" rx="4" fill="#444" fill-opacity="0.7" filter="url(#bl_2_3_2_4)"/>
<path d="M774.8 650.5 C775.6 656 777.5 659 782 660 L799.5 661.8 Q803 662.3 803 665.5 V673 Q803 676.4 799.5 676.7 C792 677.4 783 677.8 777.8 677 Q774.8 676.4 774.8 673 Z" fill="#000" fill-opacity="1" filter="url(#bl_1_3_1_4)"/>
<path d="M811 655 C811.6 658 813.2 659.4 816.5 659.6 L836 658.8 C838.5 658.6 839.8 657.3 840.3 655 V669.3 Q840.3 672.2 837 672.4 L814.2 673.1 Q811 673 811 670 Z" fill="#000" fill-opacity="1" filter="url(#bl_1_3_1_4)"/>
<path d="M847 662.5 Q847 659.6 850.2 659.3 L868.5 658.8 C872.3 658.3 874.4 655 875.2 649.5 V672.2 Q875.2 675.6 872 675.3 L850.2 674 Q847 673.8 847 671 Z" fill="#000" fill-opacity="1" filter="url(#bl_1_3_1_4)"/>
<rect x="781.5" y="687" width="16" height="7" rx="3" fill="#999" fill-opacity="0.3" filter="url(#bl_3_3)"/>
<rect x="813" y="687.5" width="24" height="5" rx="2" fill="#888" fill-opacity="0.33" filter="url(#bl_3_2_5)"/>
<rect x="848" y="686.5" width="20" height="5" rx="2" fill="#777" fill-opacity="0.36" filter="url(#bl_3_2_5)"/>
<rect x="817" y="739.5" width="18" height="7" rx="3" fill="#aaa" fill-opacity="0.3" filter="url(#bl_3_3)"/>
<rect x="848" y="738.5" width="8" height="7" rx="3" fill="#aaa" fill-opacity="0.3" filter="url(#bl_2_5_3)"/>
<rect x="813" y="758.5" width="18" height="7" rx="3" fill="#aaa" fill-opacity="0.3" filter="url(#bl_3_3)"/>
<rect x="844.5" y="757" width="9" height="8" rx="3" fill="#999" fill-opacity="0.35" filter="url(#bl_2_5_3)"/>
<path d="M790 716 C793 728 796 745 803 755 C812 765 826 774 842 790" fill="none" stroke="#777" stroke-opacity="0.35" stroke-width="1.5" stroke-linecap="round" filter="url(#bl_1_2_1_2)"/>
<rect x="890" y="679.25" width="27" height="5.5" rx="2.5" fill="#666" fill-opacity="0.55" filter="url(#bl_2_4_2_0)" transform="rotate(-1 903.5 682)"/>
<rect x="880.5" y="741.65" width="22" height="7.5" rx="3.5" fill="#333" fill-opacity="0.75" filter="url(#bl_2_4_2_1)" transform="rotate(3 891.5 745.4)"/>
<rect x="875.5" y="777.2" width="18" height="7" rx="3.5" fill="#111" fill-opacity="0.85" filter="url(#bl_2_2_2_0)" transform="rotate(4 884.5 780.7)"/>
<rect x="885" y="782" width="22" height="5" rx="2.5" fill="#555" fill-opacity="0.55" filter="url(#bl_2_7_2_0)" transform="rotate(9 896 784.5)"/>
<rect x="874" y="828" width="24" height="6" rx="3" fill="#999" fill-opacity="0.35" filter="url(#bl_3_5_2_8)" transform="rotate(14 886 831)"/>
<rect x="885" y="715.5" width="22" height="3" rx="1.5" fill="#aaa" fill-opacity="0.25" filter="url(#bl_3_2)"/>
</g>
<rect x="717.3" y="601.2" width="208.7" height="283.8" fill="none" stroke="#0a0a0a" stroke-width="1.6"/>
<line x1="706" y1="616.6" x2="717.3" y2="616.6" stroke="#000" stroke-width="1.4" />
<text x="653.25" y="624" font-size="23.1" textLength="38.93" lengthAdjust="spacingAndGlyphs">150</text>
<line x1="706" y1="672.3" x2="717.3" y2="672.3" stroke="#000" stroke-width="1.4" />
<text x="662.98" y="680.8" font-size="23.1" textLength="29.2" lengthAdjust="spacingAndGlyphs">80</text>
<line x1="706" y1="727.4" x2="717.3" y2="727.4" stroke="#000" stroke-width="1.4" />
<text x="663.57" y="734.8" font-size="23.1" textLength="28.6" lengthAdjust="spacingAndGlyphs">50</text>
<line x1="706" y1="817.8" x2="717.3" y2="817.8" stroke="#000" stroke-width="1.4" />
<text x="666.36" y="825.2" font-size="23.1" textLength="25.36" lengthAdjust="spacingAndGlyphs">25</text>
<line x1="706" y1="839.1" x2="717.3" y2="839.1" stroke="#000" stroke-width="1.4" />
<text x="670.32" y="846.5" font-size="23.1" textLength="21.82" lengthAdjust="spacingAndGlyphs">21</text>
<line x1="706" y1="861.7" x2="717.3" y2="861.7" stroke="#000" stroke-width="1.4" />
<text x="670.95" y="869.1" font-size="23.1" textLength="21.41" lengthAdjust="spacingAndGlyphs">17</text>
<text x="682.87" y="894.9" font-size="23.5" textLength="21.32" lengthAdjust="spacingAndGlyphs">nt</text>
<polygon points="927.8,661.5 939.9,656.1 939.9,666.9" fill="#000" />
<polygon points="927.8,735.6 939.9,730.2 939.9,741" fill="#000" />
<polygon points="927.8,773.9 939.9,768.5 939.9,779.3" fill="#000" />
<text x="950.48" y="653.7" font-size="27.3" textLength="40.71" lengthAdjust="spacingAndGlyphs">IVT</text>
<text x="952.01" y="684.8" font-size="27.3" textLength="62.26" lengthAdjust="spacingAndGlyphs">tRNA</text>
<text x="1016.2" y="672.8" font-size="18.7" textLength="79.88" lengthAdjust="spacingAndGlyphs">Lys(UUU)</text>
<text x="952.01" y="743.8" font-size="27.3" textLength="62.26" lengthAdjust="spacingAndGlyphs">tRNA</text>
<text x="950.56" y="781.5" font-size="27.3" textLength="135.43" lengthAdjust="spacingAndGlyphs">Fragments</text>
<text x="1127.39" y="512.5" font-size="38" textLength="13.51" lengthAdjust="spacingAndGlyphs" font-weight="bold" stroke="#000" stroke-width="1.2" stroke-linejoin="round">f</text>
<text x="1157.36" y="515.7" font-size="27.3" textLength="44.87" lengthAdjust="spacingAndGlyphs" font-style="italic">Ror</text><text x="1202.24" y="515.7" font-size="27.3" textLength="63.48" lengthAdjust="spacingAndGlyphs">Slfn5</text>
<text x="1273.72" y="515.7" font-size="27.3" textLength="14.52" lengthAdjust="spacingAndGlyphs">+</text>
<text x="1295.22" y="515.7" font-size="27.3" textLength="80.68" lengthAdjust="spacingAndGlyphs">T5.142</text>
<text x="1163.28" y="554.8" font-size="27.3" textLength="40.76" lengthAdjust="spacingAndGlyphs">Mg</text>
<text x="1203.76" y="542.3" font-size="17.9" textLength="21.48" lengthAdjust="spacingAndGlyphs">2+</text>
<text x="1164.45" y="586.8" font-size="27.3" textLength="39.53" lengthAdjust="spacingAndGlyphs">Mn</text>
<text x="1203.76" y="574.4" font-size="17.9" textLength="21.48" lengthAdjust="spacingAndGlyphs">2+</text>
<text x="1156.65" y="617.6" font-size="27.3" textLength="66.39" lengthAdjust="spacingAndGlyphs">EDTA</text>
<text x="1248.8" y="552.6" font-size="21.5" textLength="12.2" lengthAdjust="spacingAndGlyphs" stroke="#000" stroke-width="0.45">–</text>
<text x="1289.71" y="553.3" font-size="21.5" textLength="14.64" lengthAdjust="spacingAndGlyphs" stroke="#000" stroke-width="0.45">+</text>
<text x="1332.9" y="552.6" font-size="21.5" textLength="12.2" lengthAdjust="spacingAndGlyphs" stroke="#000" stroke-width="0.45">–</text>
<text x="1374.8" y="552.6" font-size="21.5" textLength="12.2" lengthAdjust="spacingAndGlyphs" stroke="#000" stroke-width="0.45">–</text>
<text x="1248.8" y="584.7" font-size="21.5" textLength="12.2" lengthAdjust="spacingAndGlyphs" stroke="#000" stroke-width="0.45">–</text>
<text x="1290.9" y="584.7" font-size="21.5" textLength="12.2" lengthAdjust="spacingAndGlyphs" stroke="#000" stroke-width="0.45">–</text>
<text x="1331.71" y="585.4" font-size="21.5" textLength="14.64" lengthAdjust="spacingAndGlyphs" stroke="#000" stroke-width="0.45">+</text>
<text x="1374.8" y="584.7" font-size="21.5" textLength="12.2" lengthAdjust="spacingAndGlyphs" stroke="#000" stroke-width="0.45">–</text>
<text x="1248.8" y="615.4" font-size="21.5" textLength="12.2" lengthAdjust="spacingAndGlyphs" stroke="#000" stroke-width="0.45">–</text>
<text x="1290.9" y="615.4" font-size="21.5" textLength="12.2" lengthAdjust="spacingAndGlyphs" stroke="#000" stroke-width="0.45">–</text>
<text x="1332.9" y="615.4" font-size="21.5" textLength="12.2" lengthAdjust="spacingAndGlyphs" stroke="#000" stroke-width="0.45">–</text>
<text x="1373.61" y="616.1" font-size="21.5" textLength="14.64" lengthAdjust="spacingAndGlyphs" stroke="#000" stroke-width="0.45">+</text>
<g clip-path="url(#gclip3)">
<rect x="1194.5" y="630.2" width="208.1" height="254.4" fill="#f0f0f0"/>
<rect x="1195" y="620" width="30" height="260" rx="3" fill="#e4e4e4" fill-opacity="0.5" filter="url(#bl_6_8)"/>
<rect x="1239" y="634" width="28" height="36" rx="3" fill="#dddddd" fill-opacity="0.5" filter="url(#bl_5_8)"/>
<rect x="1280" y="634" width="28" height="36" rx="3" fill="#dddddd" fill-opacity="0.5" filter="url(#bl_5_8)"/>
<rect x="1323" y="635" width="28" height="170" rx="3" fill="#e2e2e2" fill-opacity="0.5" filter="url(#bl_5_10)"/>
<rect x="1362" y="634" width="32" height="36" rx="3" fill="#dddddd" fill-opacity="0.5" filter="url(#bl_5_8)"/>
<rect x="1198" y="873" width="200" height="14" rx="3" fill="#f8f8f8" fill-opacity="0.7" filter="url(#bl_8_5)"/>
<rect x="1199.5" y="644.3" width="23" height="3.4" rx="1.7" fill="#222" fill-opacity="0.75" filter="url(#bl_2_0_1_2)" transform="rotate(7 1211 646)"/>
<rect x="1200" y="658.5" width="20" height="5" rx="2.5" fill="#999" fill-opacity="0.35" filter="url(#bl_2_8_2_4)" transform="rotate(8 1210 661)"/>
<rect x="1200" y="680.45" width="20" height="5.5" rx="2.5" fill="#888" fill-opacity="0.35" filter="url(#bl_2_8_2_5)" transform="rotate(6 1210 683.2)"/>
<rect x="1199" y="721" width="20" height="6" rx="3" fill="#777" fill-opacity="0.4" filter="url(#bl_2_8_2_5)" transform="rotate(6 1209 724)"/>
<rect x="1199.5" y="789.35" width="20" height="6.5" rx="3" fill="#444" fill-opacity="0.6" filter="url(#bl_2_6_2_3)" transform="rotate(10 1209.5 792.6)"/>
<rect x="1199.5" y="808.35" width="20" height="6.5" rx="3" fill="#555" fill-opacity="0.55" filter="url(#bl_2_6_2_3)" transform="rotate(10 1209.5 811.6)"/>
<rect x="1199.5" y="828.1" width="20" height="7" rx="3" fill="#555" fill-opacity="0.55" filter="url(#bl_2_6_2_4)" transform="rotate(10 1209.5 831.6)"/>
<path d="M1239.6 660 C1240.3 671 1243 677.5 1254 678.5 L1266.4 679.5 V688.5 C1256 689.7 1246 689.2 1240.4 687 Z" fill="#000" fill-opacity="1" filter="url(#bl_1_5_1_6)"/>
<path d="M1279.5 663 C1280.4 674 1284 680 1296 681 L1310.4 682 V691 C1299 692.2 1287 691.3 1280.5 689 Z" fill="#000" fill-opacity="1" filter="url(#bl_1_5_1_6)"/>
<path d="M1361.6 677 C1372 680 1388 678 1396 668 V687 C1385 689.5 1371 690 1361.6 687.5 Z" fill="#000" fill-opacity="1" filter="url(#bl_1_5_1_6)"/>
<rect x="1323.8" y="681.3" width="27" height="7" rx="3" fill="#666" fill-opacity="0.4" filter="url(#bl_2_8_2_4)"/>
<rect x="1324.5" y="730.7" width="25" height="8" rx="4" fill="#333" fill-opacity="0.56" filter="url(#bl_2_8_2_5)"/>
<rect x="1325.5" y="731.8" width="6" height="5" rx="2.5" fill="#111" fill-opacity="0.6" filter="url(#bl_1_5_1_5)"/>
<rect x="1324.5" y="760.3" width="25" height="8" rx="4" fill="#222" fill-opacity="0.6" filter="url(#bl_2_8_2_5)"/>
<rect x="1326" y="761.8" width="7" height="5" rx="2.5" fill="#000" fill-opacity="0.6" filter="url(#bl_1_5_1_5)"/>
<rect x="1328" y="804" width="18" height="6" rx="3" fill="#aaa" fill-opacity="0.3" filter="url(#bl_3_5_3_0)"/>
</g>
<rect x="1194.5" y="630.2" width="208.1" height="254.4" fill="none" stroke="#0a0a0a" stroke-width="1.7"/>
<line x1="1187" y1="647.8" x2="1194.5" y2="647.8" stroke="#000" stroke-width="1.4" />
<text x="1136.62" y="655.1" font-size="23.1" textLength="39.57" lengthAdjust="spacingAndGlyphs">150</text>
<line x1="1187" y1="686.1" x2="1194.5" y2="686.1" stroke="#000" stroke-width="1.4" />
<text x="1146.77" y="693.4" font-size="23.1" textLength="29.42" lengthAdjust="spacingAndGlyphs">80</text>
<line x1="1187" y1="724.7" x2="1194.5" y2="724.7" stroke="#000" stroke-width="1.4" />
<text x="1146.84" y="732" font-size="23.1" textLength="29.35" lengthAdjust="spacingAndGlyphs">50</text>
<line x1="1187" y1="791.1" x2="1194.5" y2="791.1" stroke="#000" stroke-width="1.4" />
<text x="1149.09" y="798.4" font-size="23.1" textLength="26.77" lengthAdjust="spacingAndGlyphs">25</text>
<line x1="1187" y1="808.7" x2="1194.5" y2="808.7" stroke="#000" stroke-width="1.4" />
<text x="1153.07" y="816" font-size="23.1" textLength="22.8" lengthAdjust="spacingAndGlyphs">21</text>
<line x1="1187" y1="829.5" x2="1194.5" y2="829.5" stroke="#000" stroke-width="1.4" />
<text x="1153.81" y="836.8" font-size="23.1" textLength="22.09" lengthAdjust="spacingAndGlyphs">17</text>
<text x="1166.5" y="893" font-size="23.5" textLength="20.99" lengthAdjust="spacingAndGlyphs">nt</text>
<polygon points="1404.1,679.6 1416.1,674.1 1416.1,685.1" fill="#000" />
<polygon points="1404.1,735.5 1416.1,730 1416.1,741" fill="#000" />
<polygon points="1404.1,763.8 1416.1,758.3 1416.1,769.3" fill="#000" />
<text x="1426.27" y="671.6" font-size="27.3" textLength="40.82" lengthAdjust="spacingAndGlyphs">IVT</text>
<text x="1427.81" y="703.7" font-size="27.3" textLength="62.36" lengthAdjust="spacingAndGlyphs">tRNA</text>
<text x="1491.89" y="690.7" font-size="18.7" textLength="80.4" lengthAdjust="spacingAndGlyphs">Lys(UUU)</text>
<text x="1427.81" y="743.9" font-size="27.3" textLength="62.36" lengthAdjust="spacingAndGlyphs">tRNA</text>
<text x="1426.34" y="772.1" font-size="27.3" textLength="136.66" lengthAdjust="spacingAndGlyphs">Fragments</text>
<text x="1325.45" y="27.6" font-size="38" textLength="26.7" lengthAdjust="spacingAndGlyphs" font-weight="bold" stroke="#000" stroke-width="1.2" stroke-linejoin="round">g</text>
<polygon points="1521.9,111 1646.5,189.8 1646.5,226.8 1521.9,370.5" fill="url(#wedge)" />
<line x1="1521.9" y1="111" x2="1646.2" y2="189.8" stroke="#000" stroke-width="1.25" stroke-dasharray="1.9 1.7"/>
<line x1="1521.9" y1="370.5" x2="1646.2" y2="226.9" stroke="#000" stroke-width="1.25" stroke-dasharray="1.9 1.7"/>
<text x="1371.4" y="82.6" font-size="27.2" textLength="63.67" lengthAdjust="spacingAndGlyphs">tRNA</text>
<text x="1435.57" y="69.8" font-size="18.8" textLength="81.12" lengthAdjust="spacingAndGlyphs">Lys(UUU)</text>
<line x1="1424" y1="138.1" x2="1432" y2="138.1" stroke="#000" stroke-width="1.2" />
<line x1="1424" y1="169.1" x2="1432" y2="169.1" stroke="#000" stroke-width="1.2" />
<line x1="1424" y1="199.5" x2="1432" y2="199.5" stroke="#000" stroke-width="1.2" />
<line x1="1424" y1="230.6" x2="1432" y2="230.6" stroke="#000" stroke-width="1.2" />
<line x1="1424" y1="261" x2="1432" y2="261" stroke="#000" stroke-width="1.2" />
<circle cx="1394.6" cy="112.6" r="14.5" fill="#d2e1f3" stroke="#000" stroke-width="1.2"/>
<circle cx="1462.6" cy="112.7" r="14.5" fill="#d2e1f3" stroke="#000" stroke-width="1.2"/>
<circle cx="1411.4" cy="138.1" r="14.5" fill="#d2e1f3" stroke="#000" stroke-width="1.2"/>
<circle cx="1444.6" cy="138.1" r="14.5" fill="#d2e1f3" stroke="#000" stroke-width="1.2"/>
<circle cx="1411.4" cy="169.1" r="14.5" fill="#d2e1f3" stroke="#000" stroke-width="1.2"/>
<circle cx="1444.6" cy="169.1" r="14.5" fill="#d2e1f3" stroke="#000" stroke-width="1.2"/>
<circle cx="1411.4" cy="199.5" r="14.5" fill="#d2e1f3" stroke="#000" stroke-width="1.2"/>
<circle cx="1444.6" cy="199.5" r="14.5" fill="#d2e1f3" stroke="#000" stroke-width="1.2"/>
<circle cx="1411.4" cy="230.6" r="14.5" fill="#d2e1f3" stroke="#000" stroke-width="1.2"/>
<circle cx="1444.6" cy="230.6" r="14.5" fill="#d2e1f3" stroke="#000" stroke-width="1.2"/>
<circle cx="1411.4" cy="261.0" r="14.5" fill="#82b1d0" stroke="#000" stroke-width="1.2"/>
<circle cx="1444.6" cy="261.0" r="14.5" fill="#82b1d0" stroke="#000" stroke-width="1.2"/>
<circle cx="1389.4" cy="282.1" r="14.5" fill="#82b1d0" stroke="#000" stroke-width="1.2"/>
<circle cx="1466.6" cy="282.1" r="14.5" fill="#82b1d0" stroke="#000" stroke-width="1.2"/>
<circle cx="1381.8" cy="311.2" r="14.5" fill="#82b1d0" stroke="#000" stroke-width="1.2"/>
<circle cx="1474.5" cy="311.2" r="14.5" fill="#82b1d0" stroke="#000" stroke-width="1.2"/>
<circle cx="1398.1" cy="338.1" r="14.5" fill="#82b1d0" stroke="#000" stroke-width="1.2"/>
<circle cx="1428.3" cy="338.1" r="14.5" fill="#82b1d0" stroke="#000" stroke-width="1.2"/>
<circle cx="1458.4" cy="338.1" r="14.5" fill="#82b1d0" stroke="#000" stroke-width="1.2"/>
<text x="1385.73" y="122" font-size="27.2" textLength="17.73" lengthAdjust="spacingAndGlyphs">A</text>
<text x="1452.29" y="122.1" font-size="27.2" textLength="20.62" lengthAdjust="spacingAndGlyphs">U</text>
<text x="1401.02" y="147.5" font-size="27.2" textLength="21.45" lengthAdjust="spacingAndGlyphs">G</text>
<text x="1434.29" y="147.5" font-size="27.2" textLength="20.62" lengthAdjust="spacingAndGlyphs">U</text>
<text x="1401.09" y="178.5" font-size="27.2" textLength="20.62" lengthAdjust="spacingAndGlyphs">U</text>
<text x="1435.73" y="178.5" font-size="27.2" textLength="17.73" lengthAdjust="spacingAndGlyphs">A</text>
<text x="1401.09" y="208.9" font-size="27.2" textLength="20.62" lengthAdjust="spacingAndGlyphs">U</text>
<text x="1435.73" y="208.9" font-size="27.2" textLength="17.73" lengthAdjust="spacingAndGlyphs">A</text>
<text x="1401.02" y="240" font-size="27.2" textLength="21.45" lengthAdjust="spacingAndGlyphs">G</text>
<text x="1434.65" y="240" font-size="27.2" textLength="19.57" lengthAdjust="spacingAndGlyphs">C</text>
<text x="1402.53" y="270.4" font-size="27.2" textLength="17.73" lengthAdjust="spacingAndGlyphs">A</text>
<text x="1434.29" y="270.4" font-size="27.2" textLength="20.62" lengthAdjust="spacingAndGlyphs">U</text>
<text x="1379.45" y="291.5" font-size="27.2" textLength="19.57" lengthAdjust="spacingAndGlyphs">C</text>
<text x="1457.73" y="291.5" font-size="27.2" textLength="17.73" lengthAdjust="spacingAndGlyphs">A</text>
<text x="1371.49" y="320.6" font-size="27.2" textLength="20.62" lengthAdjust="spacingAndGlyphs">U</text>
<text x="1465.63" y="320.6" font-size="27.2" textLength="17.73" lengthAdjust="spacingAndGlyphs">A</text>
<text x="1387.79" y="347.5" font-size="27.2" textLength="20.62" lengthAdjust="spacingAndGlyphs">U</text>
<text x="1417.99" y="347.5" font-size="27.2" textLength="20.62" lengthAdjust="spacingAndGlyphs">U</text>
<text x="1448.09" y="347.5" font-size="27.2" textLength="20.62" lengthAdjust="spacingAndGlyphs">U</text>
<text x="1357.65" y="116.3" font-size="26.5" textLength="21.32" lengthAdjust="spacingAndGlyphs">5′</text>
<text x="1481.72" y="116.3" font-size="26.5" textLength="21.35" lengthAdjust="spacingAndGlyphs">3′</text>
<text x="1351.75" y="238.3" font-size="26.5" textLength="44.36" lengthAdjust="spacingAndGlyphs">30-</text>
<text x="1460.23" y="238.3" font-size="26.5" textLength="44.02" lengthAdjust="spacingAndGlyphs">-40</text>
<polygon points="1379.8,241.1 1402.2,245.9 1379.8,250.5" fill="#ff0000" />
<polygon points="1475.9,241.7 1455.9,245.6 1475.9,249.7" fill="#000" />
<polygon points="1357.4,290.1 1379.8,294.9 1357.4,299.1" fill="#c6c6c6" />
<text x="1364.43" y="383.8" font-size="27.7" textLength="131.02" lengthAdjust="spacingAndGlyphs">Anticodon</text>
<text x="1629.78" y="28.8" font-size="38" textLength="26.31" lengthAdjust="spacingAndGlyphs" font-weight="bold" stroke="#000" stroke-width="1.2" stroke-linejoin="round">h</text>
<g transform="translate(0 0)"><path d="M1734.6 55.9 V128.2 Q1734.6 136.6 1743 136.6 H1772.6 C1777.5 136.6 1779 127.5 1791.7 127.5 A19.4 19.4 0 1 1 1791.7 166.3 C1779 166.3 1777.5 155.6 1772.6 155.6 H1743.6 C1747.6 158.3 1753.5 161.7 1753.5 168.5 C1753.5 175.2 1748.5 178.4 1743.9 177.8 C1739 177.2 1737 173.5 1733.3 170 V207.5" fill="none" stroke="#000" stroke-width="3.1" stroke-linecap="butt" stroke-linejoin="round" /><path d="M1715.5 86.6 V139.7 Q1715.5 148.2 1707 148.2 H1684.4 C1679.5 148.2 1679 138.6 1666.6 138.6 A19.4 19.4 0 1 0 1666.6 177.4 C1679 177.4 1679.5 167.8 1684.4 167.8 H1706 Q1714.2 167.8 1714.2 176.2 V207.5" fill="none" stroke="#000" stroke-width="3.1" stroke-linecap="butt" stroke-linejoin="round" /><line x1="1715.5" y1="90.7" x2="1734.6" y2="90.7" stroke="#000" stroke-width="3.05"/><line x1="1715.5" y1="97.6" x2="1734.6" y2="97.6" stroke="#000" stroke-width="3.05"/><line x1="1715.5" y1="104.7" x2="1734.6" y2="104.7" stroke="#000" stroke-width="3.05"/><line x1="1715.5" y1="111.6" x2="1734.6" y2="111.6" stroke="#000" stroke-width="3.05"/><line x1="1715.5" y1="118.3" x2="1734.6" y2="118.3" stroke="#000" stroke-width="3.05"/><line x1="1715.5" y1="125.0" x2="1734.6" y2="125.0" stroke="#000" stroke-width="3.05"/><line x1="1715.5" y1="131.8" x2="1734.6" y2="131.8" stroke="#000" stroke-width="3.05"/><line x1="1686.2" y1="148.2" x2="1686.2" y2="167.8" stroke="#000" stroke-width="3.05"/><line x1="1693.0" y1="148.2" x2="1693.0" y2="167.8" stroke="#000" stroke-width="3.05"/><line x1="1699.8" y1="148.2" x2="1699.8" y2="167.8" stroke="#000" stroke-width="3.05"/><line x1="1706.4" y1="148.2" x2="1706.4" y2="167.8" stroke="#000" stroke-width="3.05"/><line x1="1744.0" y1="136.6" x2="1744.0" y2="155.6" stroke="#000" stroke-width="3.05"/><line x1="1751.1" y1="136.6" x2="1751.1" y2="155.6" stroke="#000" stroke-width="3.05"/><line x1="1758.0" y1="136.6" x2="1758.0" y2="155.6" stroke="#000" stroke-width="3.05"/><line x1="1764.9" y1="136.6" x2="1764.9" y2="155.6" stroke="#000" stroke-width="3.05"/><line x1="1771.4" y1="136.6" x2="1771.4" y2="155.6" stroke="#000" stroke-width="3.05"/><line x1="1714.2" y1="178.0" x2="1733.3" y2="178.0" stroke="#000" stroke-width="3.05"/><line x1="1714.2" y1="185.0" x2="1733.3" y2="185.0" stroke="#000" stroke-width="3.05"/><line x1="1714.2" y1="191.7" x2="1733.3" y2="191.7" stroke="#000" stroke-width="3.05"/><line x1="1714.2" y1="198.4" x2="1733.3" y2="198.4" stroke="#000" stroke-width="3.05"/><line x1="1714.2" y1="205.2" x2="1733.3" y2="205.2" stroke="#000" stroke-width="3.05"/><path d="M1714.2 207 C1709 212.5 1705.4 217.5 1705.4 226.5 C1705.4 236 1709 238.8 1716.5 238.8 H1731.5 C1739 238.8 1742.4 236 1742.4 226.5 C1742.4 217.5 1739 212.5 1733.3 207" fill="none" stroke="#000" stroke-width="3.1" stroke-linecap="butt" stroke-linejoin="round" /></g>
<text x="1726.88" y="52.2" font-size="27.7" textLength="22.11" lengthAdjust="spacingAndGlyphs">3′</text>
<text x="1705.05" y="84.8" font-size="27.7" textLength="21.32" lengthAdjust="spacingAndGlyphs">5′</text>
<g transform="translate(0 265.7)"><path d="M1734.6 55.9 V128.2 Q1734.6 136.6 1743 136.6 H1772.6 C1777.5 136.6 1779 127.5 1791.7 127.5 A19.4 19.4 0 1 1 1791.7 166.3 C1779 166.3 1777.5 155.6 1772.6 155.6 H1743.6 C1747.6 158.3 1753.5 161.7 1753.5 168.5 C1753.5 175.2 1748.5 178.4 1743.9 177.8 C1739 177.2 1737 173.5 1733.3 170 V208 C1733.3 211 1742.3 215 1742.3 225.5 C1742.3 235 1738 238.6 1731 238.6 H1716.2" fill="none" stroke="#000" stroke-width="3.1" stroke-linecap="butt" stroke-linejoin="round" /><path d="M1715.5 86.6 V139.7 Q1715.5 148.2 1707 148.2 H1684.4 C1679.5 148.2 1679 138.6 1666.6 138.6 A19.4 19.4 0 1 0 1666.6 177.4 C1679 177.4 1679.5 167.8 1684.4 167.8 H1706 Q1714.2 167.8 1714.2 176.2 V202.4" fill="none" stroke="#000" stroke-width="3.1" stroke-linecap="butt" stroke-linejoin="round" /><line x1="1715.5" y1="90.7" x2="1734.6" y2="90.7" stroke="#000" stroke-width="3.05"/><line x1="1715.5" y1="97.6" x2="1734.6" y2="97.6" stroke="#000" stroke-width="3.05"/><line x1="1715.5" y1="104.7" x2="1734.6" y2="104.7" stroke="#000" stroke-width="3.05"/><line x1="1715.5" y1="111.6" x2="1734.6" y2="111.6" stroke="#000" stroke-width="3.05"/><line x1="1715.5" y1="118.3" x2="1734.6" y2="118.3" stroke="#000" stroke-width="3.05"/><line x1="1715.5" y1="125.0" x2="1734.6" y2="125.0" stroke="#000" stroke-width="3.05"/><line x1="1715.5" y1="131.8" x2="1734.6" y2="131.8" stroke="#000" stroke-width="3.05"/><line x1="1686.2" y1="148.2" x2="1686.2" y2="167.8" stroke="#000" stroke-width="3.05"/><line x1="1693.0" y1="148.2" x2="1693.0" y2="167.8" stroke="#000" stroke-width="3.05"/><line x1="1699.8" y1="148.2" x2="1699.8" y2="167.8" stroke="#000" stroke-width="3.05"/><line x1="1706.4" y1="148.2" x2="1706.4" y2="167.8" stroke="#000" stroke-width="3.05"/><line x1="1744.0" y1="136.6" x2="1744.0" y2="155.6" stroke="#000" stroke-width="3.05"/><line x1="1751.1" y1="136.6" x2="1751.1" y2="155.6" stroke="#000" stroke-width="3.05"/><line x1="1758.0" y1="136.6" x2="1758.0" y2="155.6" stroke="#000" stroke-width="3.05"/><line x1="1764.9" y1="136.6" x2="1764.9" y2="155.6" stroke="#000" stroke-width="3.05"/><line x1="1771.4" y1="136.6" x2="1771.4" y2="155.6" stroke="#000" stroke-width="3.05"/><line x1="1714.2" y1="178.0" x2="1733.3" y2="178.0" stroke="#000" stroke-width="3.05"/><line x1="1714.2" y1="184.9" x2="1733.3" y2="184.9" stroke="#000" stroke-width="3.05"/><line x1="1714.2" y1="191.5" x2="1733.3" y2="191.5" stroke="#000" stroke-width="3.05"/><line x1="1714.2" y1="198.4" x2="1733.3" y2="198.4" stroke="#000" stroke-width="3.05"/><path d="M1711 238.6 L1724.6 224.6 A20.6 20.6 0 1 0 1724.6 252.6 Z" fill="#000"/></g>
<text x="1726.88" y="317.7" font-size="27.7" textLength="22.11" lengthAdjust="spacingAndGlyphs">3′</text>
<text x="1705.05" y="350.5" font-size="27.7" textLength="21.32" lengthAdjust="spacingAndGlyphs">5′</text>
<g transform="translate(0 551.2)"><path d="M1734.6 55.9 V128.2 Q1734.6 136.6 1743 136.6 H1772.6 C1777.5 136.6 1779 127.5 1791.7 127.5 A19.4 19.4 0 1 1 1791.7 166.3 C1779 166.3 1777.5 155.6 1772.6 155.6 H1743.6 C1747.6 158.3 1753.5 161.7 1753.5 168.5 C1753.5 175.2 1748.5 178.4 1743.9 177.8 C1739 177.2 1737 173.5 1733.3 170 V201.2" fill="none" stroke="#000" stroke-width="3.1" stroke-linecap="butt" stroke-linejoin="round" /><path d="M1715.5 86.6 V139.7 Q1715.5 148.2 1707 148.2 H1684.4 C1679.5 148.2 1679 138.6 1666.6 138.6 A19.4 19.4 0 1 0 1666.6 177.4 C1679 177.4 1679.5 167.8 1684.4 167.8 H1706 Q1714.2 167.8 1714.2 176.2 V201.2" fill="none" stroke="#000" stroke-width="3.1" stroke-linecap="butt" stroke-linejoin="round" /><line x1="1715.5" y1="90.7" x2="1734.6" y2="90.7" stroke="#000" stroke-width="3.05"/><line x1="1715.5" y1="97.6" x2="1734.6" y2="97.6" stroke="#000" stroke-width="3.05"/><line x1="1715.5" y1="104.7" x2="1734.6" y2="104.7" stroke="#000" stroke-width="3.05"/><line x1="1715.5" y1="111.6" x2="1734.6" y2="111.6" stroke="#000" stroke-width="3.05"/><line x1="1715.5" y1="118.3" x2="1734.6" y2="118.3" stroke="#000" stroke-width="3.05"/><line x1="1715.5" y1="125.0" x2="1734.6" y2="125.0" stroke="#000" stroke-width="3.05"/><line x1="1715.5" y1="131.8" x2="1734.6" y2="131.8" stroke="#000" stroke-width="3.05"/><line x1="1686.2" y1="148.2" x2="1686.2" y2="167.8" stroke="#000" stroke-width="3.05"/><line x1="1693.0" y1="148.2" x2="1693.0" y2="167.8" stroke="#000" stroke-width="3.05"/><line x1="1699.8" y1="148.2" x2="1699.8" y2="167.8" stroke="#000" stroke-width="3.05"/><line x1="1706.4" y1="148.2" x2="1706.4" y2="167.8" stroke="#000" stroke-width="3.05"/><line x1="1744.0" y1="136.6" x2="1744.0" y2="155.6" stroke="#000" stroke-width="3.05"/><line x1="1751.1" y1="136.6" x2="1751.1" y2="155.6" stroke="#000" stroke-width="3.05"/><line x1="1758.0" y1="136.6" x2="1758.0" y2="155.6" stroke="#000" stroke-width="3.05"/><line x1="1764.9" y1="136.6" x2="1764.9" y2="155.6" stroke="#000" stroke-width="3.05"/><line x1="1771.4" y1="136.6" x2="1771.4" y2="155.6" stroke="#000" stroke-width="3.05"/><line x1="1714.2" y1="178.0" x2="1733.3" y2="178.0" stroke="#000" stroke-width="3.05"/><line x1="1714.2" y1="184.9" x2="1733.3" y2="184.9" stroke="#000" stroke-width="3.05"/><line x1="1714.2" y1="191.5" x2="1733.3" y2="191.5" stroke="#000" stroke-width="3.05"/><line x1="1714.2" y1="198.4" x2="1733.3" y2="198.4" stroke="#000" stroke-width="3.05"/></g>
<text x="1726.88" y="603.2" font-size="27.7" textLength="22.11" lengthAdjust="spacingAndGlyphs">3′</text>
<text x="1705.05" y="636" font-size="27.7" textLength="21.32" lengthAdjust="spacingAndGlyphs">5′</text>
<text x="1647.95" y="210.8" font-size="27.3" textLength="45.17" lengthAdjust="spacingAndGlyphs">Cut</text>
<polygon points="1697.2,192.3 1722.5,201 1697.2,209.7" fill="#ff0000" />
<line x1="1724.4" y1="240.6" x2="1724.4" y2="284" stroke="#000" stroke-width="2.6" />
<polygon points="1724.4,294 1719,283.2 1729.9,283.2" fill="#000" />
<text x="1541.45" y="495.7" font-size="27.3" textLength="126.1" lengthAdjust="spacingAndGlyphs">exoRNase</text>
<text x="1542.66" y="526.4" font-size="27.3" textLength="128.06" lengthAdjust="spacingAndGlyphs">trimming?</text>
<line x1="1724.4" y1="526.3" x2="1724.4" y2="579.4" stroke="#000" stroke-width="2.6" />
<text x="1697.88" y="779" font-size="27.7" textLength="22.11" lengthAdjust="spacingAndGlyphs">3′</text>
<text x="1726.65" y="779" font-size="27.7" textLength="21.32" lengthAdjust="spacingAndGlyphs">5′</text>
<text x="1634.45" y="808.2" font-size="27.3" textLength="189.08" lengthAdjust="spacingAndGlyphs">anticodon-less</text>
<text x="1690.11" y="838.9" font-size="27.3" textLength="76.91" lengthAdjust="spacingAndGlyphs">tRNA?</text>
</svg>
</body>
</html>
